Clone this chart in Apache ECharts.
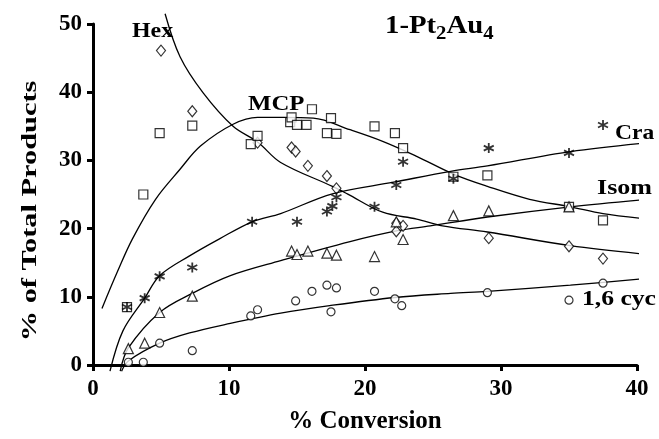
<!DOCTYPE html>
<html><head><meta charset="utf-8">
<script src="https://cdn.jsdelivr.net/npm/echarts@6/dist/echarts.min.js"></script>
<style>html,body{margin:0;padding:0;background:#fff}#c{width:659px;height:439px}</style>
</head><body><div id="c"></div>
<script>
// ---- data points ----
const hexX = [5.0, 7.3, 12.1, 14.6, 14.9, 15.8, 17.2, 17.9, 22.3, 22.8, 22.3, 29.1, 35.0, 37.5];
const hexY = [46.1, 37.2, 32.6, 31.9, 31.3, 29.2, 27.7, 25.9, 20.8, 20.4, 19.6, 18.6, 17.4, 15.6];
const mcpX = [2.5, 3.7, 4.9, 7.3, 11.6, 12.1, 14.5, 14.6, 15.0, 15.7, 16.1, 17.2, 17.5, 17.9, 20.7, 22.2, 22.8, 26.5, 29.0, 35.0, 37.5];
const mcpY = [8.5, 25.0, 34.0, 35.1, 32.4, 33.6, 35.6, 36.3, 35.2, 35.2, 37.5, 34.0, 36.2, 33.9, 35.0, 34.0, 31.8, 27.6, 27.8, 23.2, 21.2];
const craX = [2.5, 3.8, 4.9, 7.3, 11.7, 15.0, 17.2, 17.6, 17.9, 20.7, 22.3, 22.8, 26.5, 29.1, 35.0, 37.5];
const craY = [8.5, 9.8, 13.0, 14.3, 21.0, 21.0, 22.5, 23.3, 24.6, 23.2, 26.4, 29.8, 27.3, 31.8, 31.1, 35.2];
const isomX = [2.6, 3.8, 4.9, 7.3, 14.6, 15.0, 15.8, 17.2, 17.9, 20.7, 22.3, 22.8, 26.5, 29.1, 35.0];
const isomY = [2.4, 3.2, 7.7, 10.1, 16.7, 16.2, 16.7, 16.4, 16.1, 15.9, 21.0, 18.4, 21.9, 22.6, 23.2];
const cycX = [2.6, 3.7, 4.9, 7.3, 11.6, 12.1, 14.9, 16.1, 17.2, 17.5, 17.9, 20.7, 22.2, 22.7, 29.0, 35.0, 37.5];
const cycY = [0.4, 0.4, 3.2, 2.1, 7.2, 8.1, 9.4, 10.8, 11.7, 7.8, 11.3, 10.8, 9.7, 8.7, 10.6, 9.5, 12.0];

// ---- fitted curves ----
const hexCurveX = [5.3, 6.4, 8.1, 10.3, 12.1, 13.8, 17.6, 18.7, 21.3, 23.8, 25.7, 29.0, 35.1, 40.8];
const hexCurveY = [51.5, 45.2, 39.9, 35.0, 32.7, 29.7, 26.2, 25.1, 22.4, 21.4, 20.4, 19.5, 17.5, 16.2];
const mcpCurveX = [0.66, 1.8, 2.9, 4.6, 6.4, 7.9, 10.3, 12.1, 14.0, 16.2, 18.9, 21.3, 23.8, 26.5, 29.0, 32.1, 35.1, 37.5, 40.8];
const mcpCurveY = [8.3, 13.7, 18.5, 24.3, 28.7, 32.1, 35.3, 36.3, 36.3, 36.2, 34.5, 32.8, 30.6, 28.0, 26.2, 24.3, 23.2, 22.2, 21.4];
const craCurveX = [1.25, 2.2, 3.8, 4.9, 7.1, 9.3, 11.7, 13.8, 17.6, 22.1, 26.3, 29.0, 35.1, 40.8];
const craCurveY = [-0.9, 5.0, 9.8, 13.1, 16.0, 18.5, 21.0, 22.2, 25.1, 26.8, 28.4, 29.2, 31.3, 32.6];
const isomCurveX = [2.0, 2.6, 4.9, 7.3, 10.1, 13.8, 18.9, 22.4, 24.8, 29.0, 35.1, 40.8];
const isomCurveY = [-0.9, 2.5, 7.7, 10.5, 13.1, 15.3, 18.1, 19.7, 20.4, 21.7, 23.2, 24.3];
const cycCurveX = [2.1, 2.6, 4.9, 7.1, 10.1, 13.8, 17.4, 22.2, 26.3, 29.0, 35.1, 40.8];
const cycCurveY = [-0.9, 0.6, 3.2, 4.7, 6.1, 7.6, 8.7, 9.9, 10.5, 10.8, 11.7, 12.7];

const xTicks = [0, 10, 20, 30, 40];
const yTicks = [0, 10, 20, 30, 40, 50];
const yTitle = '% of Total Products';
const xTitle = '% Conversion';

const FONT = '"Liberation Serif", "Times New Roman", serif';
const zip = (xs, ys) => xs.map((x, i) => [x, ys[i]]);
const ASTER = 'path://M0,-5L0,5M-4.33,-2.5L4.33,2.5M-4.33,2.5L4.33,-2.5';

function scatter(name, xs, ys, symbol, size) {
  return {
    name, type: 'scatter', data: zip(xs, ys), symbol, symbolSize: size, z: 3,
    itemStyle: { color: '#fff', borderColor: '#000', borderWidth: 1.2 }
  };
}
function curve(name, xs, ys) {
  return {
    name, type: 'line', data: zip(xs, ys), smooth: 0.35, showSymbol: false, clip: false,
    lineStyle: { color: '#000', width: 1.3 }, z: 2, silent: true
  };
}
function label(text, x, y, size, sx) {
  return { type: 'text', x, y, scaleX: sx, style: { text, font: 'bold ' + size + 'px ' + FONT, fill: '#000', verticalAlign: 'top' } };
}

const chart = echarts.init(document.getElementById('c'), null, { renderer: 'canvas' });
chart.setOption({
  animation: false,
  backgroundColor: '#fff',
  grid: { left: 93, right: 22, top: 24, bottom: 72 },
  xAxis: {
    type: 'value', min: xTicks[0], max: xTicks[xTicks.length - 1], interval: 10,
    name: xTitle, nameLocation: 'middle', nameGap: 44,
    nameTextStyle: { fontFamily: FONT, fontWeight: 'bold', fontSize: 25, color: '#000' },
    axisLine: { show: true, lineStyle: { color: '#000', width: 3 } },
    axisTick: { show: true, length: 6, lineStyle: { color: '#000', width: 3 } },
    axisLabel: { fontFamily: FONT, fontWeight: 'bold', fontSize: 23, color: '#000', margin: 13 },
    splitLine: { show: false }
  },
  yAxis: {
    type: 'value', min: yTicks[0], max: yTicks[yTicks.length - 1], interval: 10,
    axisLine: { show: true, lineStyle: { color: '#000', width: 3 } },
    axisTick: { show: true, length: 6, lineStyle: { color: '#000', width: 3 } },
    axisLabel: { fontFamily: FONT, fontWeight: 'bold', fontSize: 23, color: '#000', margin: 11 },
    splitLine: { show: false }
  },
  series: [
    curve('HexFit', hexCurveX, hexCurveY),
    curve('MCPFit', mcpCurveX, mcpCurveY),
    curve('CraFit', craCurveX, craCurveY),
    curve('IsomFit', isomCurveX, isomCurveY),
    curve('CycFit', cycCurveX, cycCurveY),
    scatter('Hex', hexX, hexY, 'diamond', [9, 11]),
    scatter('MCP', mcpX, mcpY, 'rect', 9),
    Object.assign(scatter('Cra', craX, craY, ASTER, 10), {
      itemStyle: { color: 'none', borderColor: '#000', borderWidth: 1.8 }
    }),
    scatter('Isom', isomX, isomY, 'triangle', 10),
    scatter('1,6 cyc', cycX, cycY, 'circle', 8)
  ],
  graphic: [
    { type: 'text', x: 30, y: 211, rotation: Math.PI / 2, scaleX: 1.38,
      style: { text: yTitle, font: 'bold 22px ' + FONT, fill: '#000', align: 'center', verticalAlign: 'middle' } },
    label('Hex', 132, 21, 21, 1.14),
    label('MCP', 248, 94, 21, 1.18),
    label('Cra', 615, 123, 21, 1.12),
    label('Isom', 597, 178, 21, 1.24),
    label('1,6 cyc', 582, 289, 21, 1.22),
    { type: 'text', x: 385, y: 10, scaleX: 1.15, style: {
      text: '{a|1-Pt}{s|2}{a|Au}{s|4}',
      rich: {
        a: { fontFamily: FONT, fontWeight: 'bold', fontSize: 25, color: '#000' },
        s: { fontFamily: FONT, fontWeight: 'bold', fontSize: 18, color: '#000', padding: [15, 0, 0, 0] }
      }
    } }
  ]
});
</script></body></html>
